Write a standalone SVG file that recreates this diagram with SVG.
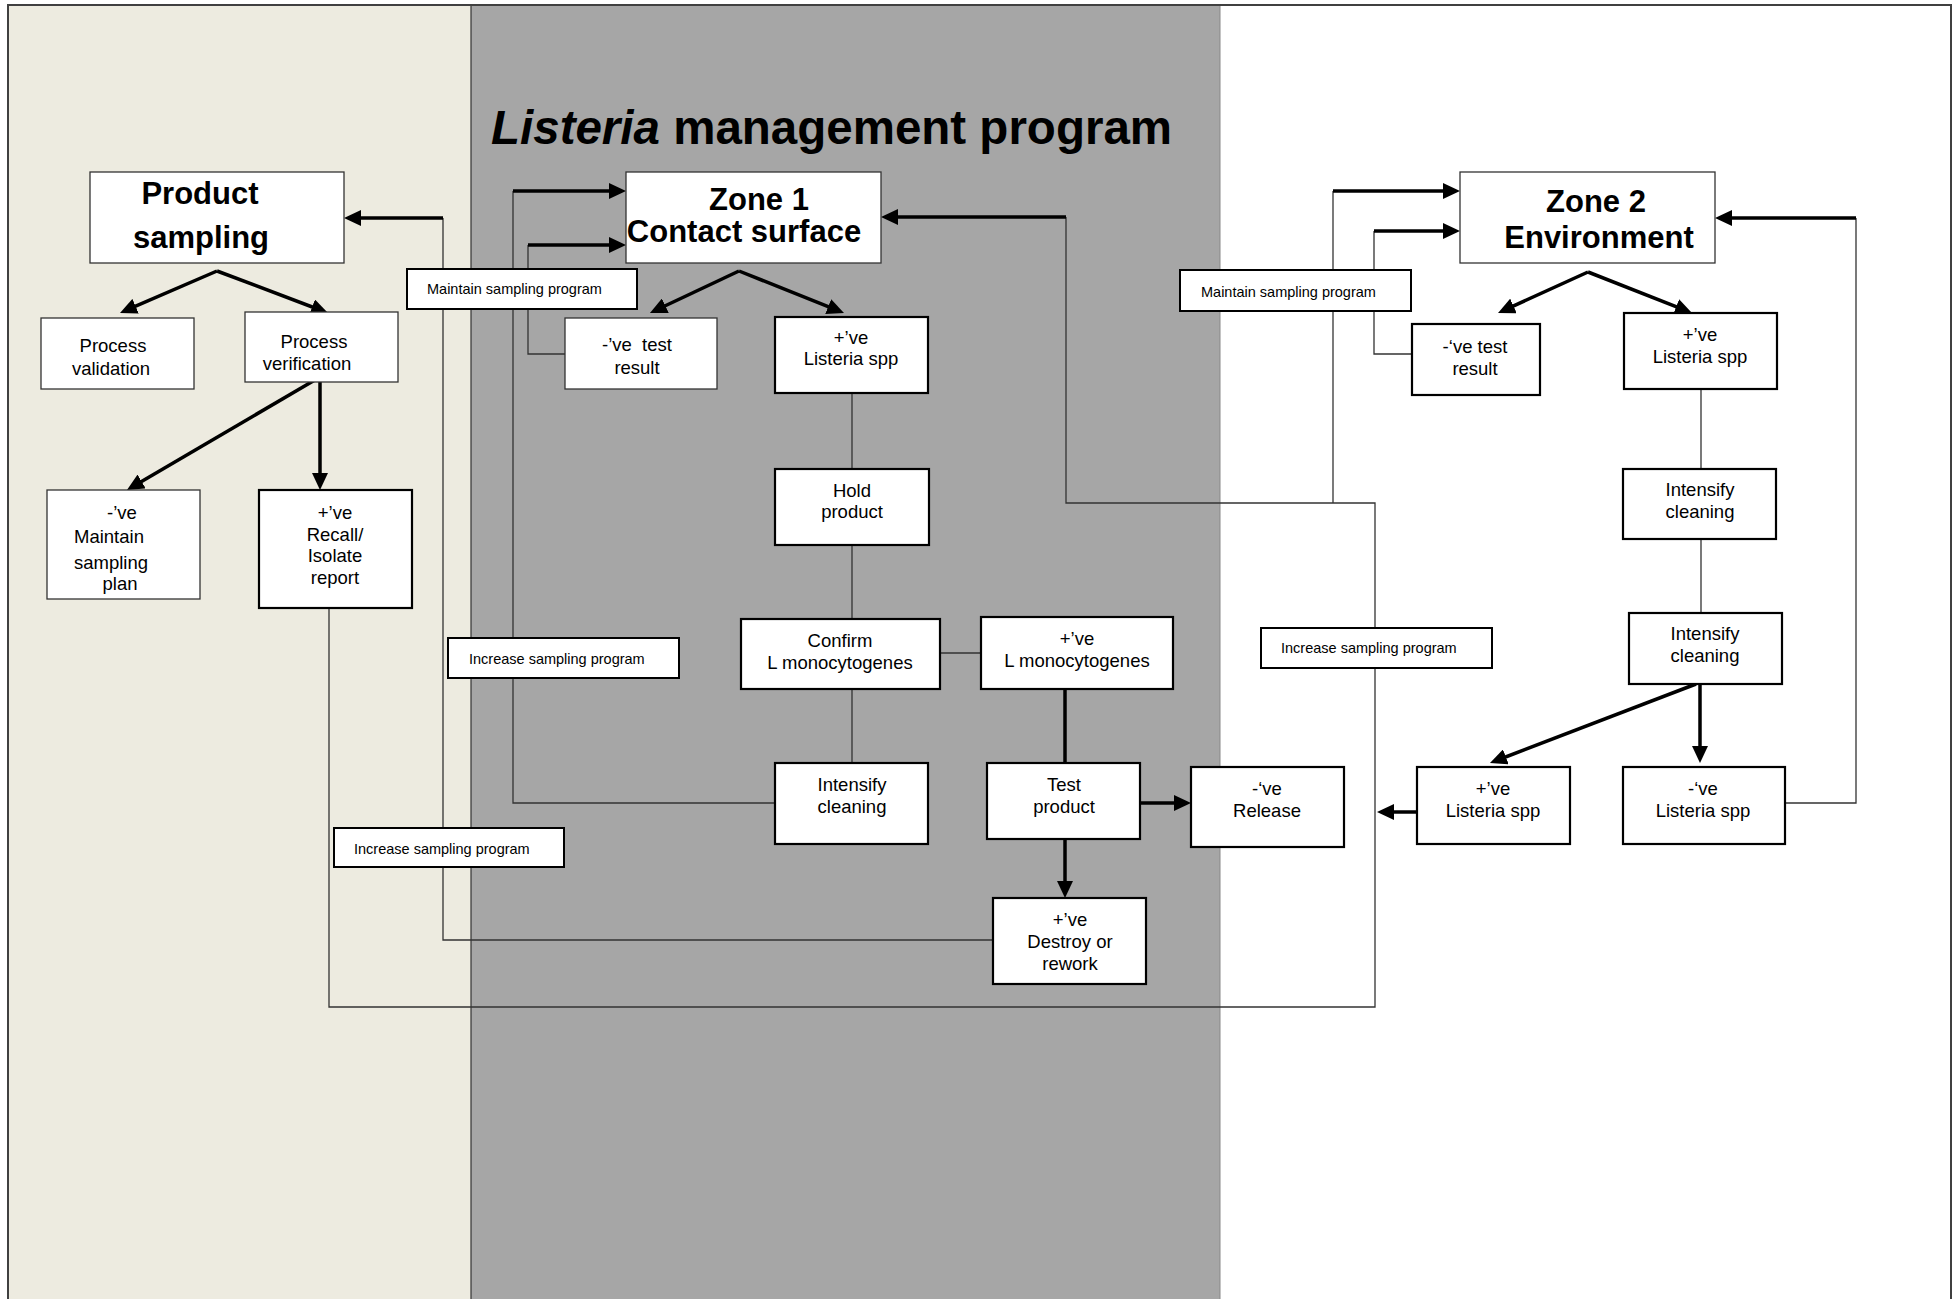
<svg xmlns="http://www.w3.org/2000/svg" width="1959" height="1299" viewBox="0 0 1959 1299">
<defs>
<marker id="ah" viewBox="0 0 17 16" markerWidth="17" markerHeight="16" refX="10" refY="8" orient="auto" markerUnits="userSpaceOnUse">
<path d="M0,0 L17,8 L0,16 z" fill="#000"/>
</marker>
<style>
.box{fill:#fff;stroke:#000;stroke-width:2.2}
.tbox{fill:#fff;stroke:#333;stroke-width:1.3}
.lbl{fill:#fff;stroke:#000;stroke-width:2}
.thin{fill:none;stroke:#333;stroke-width:1.3}
.thick{fill:none;stroke:#000;stroke-width:3.5}
.arr{fill:none;stroke:#000;stroke-width:3.5;marker-end:url(#ah)}
text{font-family:"Liberation Sans",Arial,sans-serif;fill:#000}
.t{font-size:18.5px;text-anchor:middle}
.ts{font-size:18.5px;text-anchor:start}
.s{font-size:14.5px}
.h{font-size:31px;font-weight:bold;text-anchor:middle}
</style>
</defs>
<g id="background">
<rect x="8" y="5" width="463" height="1300" fill="#EDEBE0"/>
<rect x="471" y="5" width="749" height="1300" fill="#A6A6A6"/>
<rect x="1220" y="5" width="731" height="1300" fill="#fff"/>
<line x1="471" y1="5" x2="471" y2="1299" stroke="#333" stroke-width="1.2"/>
<line x1="1220" y1="5" x2="1220" y2="1299" stroke="#888" stroke-width="1"/>
<path d="M8,1299 V5 H1951 V1299" fill="none" stroke="#404040" stroke-width="2"/>
</g>
<g id="title">
<text x="491" y="144" font-size="47.5" font-weight="bold"><tspan font-style="italic">Listeria</tspan> management program</text>
</g>
<g id="connectors">
<path class="thin" d="M993,940 H443 V218"/>
<path class="arr" d="M443,218 H351"/>
<path class="thin" d="M775,803 H513 V191"/>
<path class="arr" d="M513,191 H619"/>
<path class="thin" d="M565,354 H528 V245"/>
<path class="arr" d="M528,245 H619"/>
<path class="thin" d="M329,608 V1007 H1375 V503 H1066 V217"/>
<path class="thin" d="M1333,503 V191"/>
<path class="arr" d="M1066,217 H888"/>
<path class="arr" d="M1333,191 H1453"/>
<path class="thin" d="M1412,354 H1374 V231"/>
<path class="arr" d="M1374,231 H1453"/>
<path class="thin" d="M1785,803 H1856 V218"/>
<path class="arr" d="M1856,218 H1722"/>
<path class="arr" d="M1417,812 H1384"/>
<path class="arr" d="M217,271 L126.4,310.2"/>
<path class="arr" d="M217,271 L321.5,310.5"/>
<path class="arr" d="M739,271 L656.3,310"/>
<path class="arr" d="M739,271 L837.5,310.4"/>
<path class="arr" d="M1588,272 L1504.4,310.1"/>
<path class="arr" d="M1588,272 L1685.5,310.4"/>
<path class="arr" d="M320,377 L133,486.5"/>
<path class="arr" d="M320,377 V483"/>
<path class="arr" d="M1696,684 L1496.5,760.5"/>
<path class="arr" d="M1700,684 V756"/>
<path class="thin" d="M852,393 V469 M852,545 V619 M940,653 H981 M852,689 V763"/>
<path class="thin" d="M1701,389 V469 M1701,539 V613"/>
<path class="thick" d="M1065,689 V763"/>
<path class="arr" d="M1140,803 H1184"/>
<path class="arr" d="M1065,839 V891"/>
</g>
<g id="product-sampling"><rect class="tbox" x="90" y="172" width="254" height="91"/><text class="h" x="200" y="204">Product</text><text class="h" x="201" y="248">sampling</text></g>
<g id="zone1"><rect class="tbox" x="626" y="172" width="255" height="91"/><text class="h" x="759" y="210">Zone 1</text><text class="h" x="744" y="242">Contact surface</text></g>
<g id="zone2"><rect class="tbox" x="1460" y="172" width="255" height="91"/><text class="h" x="1596" y="212">Zone 2</text><text class="h" x="1599" y="248">Environment</text></g>
<g id="process-validation"><rect class="tbox" x="41" y="318" width="153" height="71"/><text class="t" x="113" y="352">Process</text><text class="t" x="111" y="375">validation</text></g>
<g id="process-verification"><rect class="tbox" x="245" y="312" width="153" height="70"/><text class="t" x="314" y="348">Process</text><text class="t" x="307" y="370">verification</text></g>
<g id="neg-maintain"><rect class="tbox" x="47" y="490" width="153" height="109"/><text class="t" x="122" y="519">-’ve</text><text class="ts" x="74" y="543">Maintain</text><text class="ts" x="74" y="569">sampling</text><text class="t" x="120" y="590">plan</text></g>
<g id="pos-recall"><rect class="box" x="259" y="490" width="153" height="118"/><text class="t" x="335" y="519">+’ve</text><text class="t" x="335" y="541">Recall/</text><text class="t" x="335" y="562">Isolate</text><text class="t" x="335" y="584">report</text></g>
<g id="z1-neg-test"><rect class="tbox" x="565" y="318" width="152" height="71"/><text class="t" x="637" y="351" xml:space="preserve">-’ve  test</text><text class="t" x="637" y="374">result</text></g>
<g id="z1-pos-listeria"><rect class="box" x="775" y="317" width="153" height="76"/><text class="t" x="851" y="344">+’ve</text><text class="t" x="851" y="365">Listeria spp</text></g>
<g id="hold-product"><rect class="box" x="775" y="469" width="154" height="76"/><text class="t" x="852" y="497">Hold</text><text class="t" x="852" y="518">product</text></g>
<g id="confirm"><rect class="box" x="741" y="619" width="199" height="70"/><text class="t" x="840" y="647">Confirm</text><text class="t" x="840" y="669">L monocytogenes</text></g>
<g id="pos-lmono"><rect class="box" x="981" y="617" width="192" height="72"/><text class="t" x="1077" y="645">+’ve</text><text class="t" x="1077" y="667">L monocytogenes</text></g>
<g id="z1-intensify"><rect class="box" x="775" y="763" width="153" height="81"/><text class="t" x="852" y="791">Intensify</text><text class="t" x="852" y="813">cleaning</text></g>
<g id="test-product"><rect class="box" x="987" y="763" width="153" height="76"/><text class="t" x="1064" y="791">Test</text><text class="t" x="1064" y="813">product</text></g>
<g id="release"><rect class="box" x="1191" y="767" width="153" height="80"/><text class="t" x="1267" y="795">-‘ve</text><text class="t" x="1267" y="817">Release</text></g>
<g id="destroy"><rect class="box" x="993" y="898" width="153" height="86"/><text class="t" x="1070" y="926">+’ve</text><text class="t" x="1070" y="948">Destroy or</text><text class="t" x="1070" y="970">rework</text></g>
<g id="z2-neg-test"><rect class="box" x="1412" y="324" width="128" height="71"/><text class="t" x="1475" y="353">-‘ve test</text><text class="t" x="1475" y="375">result</text></g>
<g id="z2-pos-listeria"><rect class="box" x="1624" y="313" width="153" height="76"/><text class="t" x="1700" y="341">+’ve</text><text class="t" x="1700" y="363">Listeria spp</text></g>
<g id="z2-intensify1"><rect class="box" x="1623" y="469" width="153" height="70"/><text class="t" x="1700" y="496">Intensify</text><text class="t" x="1700" y="518">cleaning</text></g>
<g id="z2-intensify2"><rect class="box" x="1629" y="613" width="153" height="71"/><text class="t" x="1705" y="640">Intensify</text><text class="t" x="1705" y="662">cleaning</text></g>
<g id="z2-pos-listeria2"><rect class="box" x="1417" y="767" width="153" height="77"/><text class="t" x="1493" y="795">+’ve</text><text class="t" x="1493" y="817">Listeria spp</text></g>
<g id="z2-neg-listeria"><rect class="box" x="1623" y="767" width="162" height="77"/><text class="t" x="1703" y="795">-‘ve</text><text class="t" x="1703" y="817">Listeria spp</text></g>
<g id="lbl-maintain1"><rect class="lbl" x="407" y="269" width="230" height="40"/><text class="s" x="427" y="294">Maintain sampling program</text></g>
<g id="lbl-maintain2"><rect class="lbl" x="1180" y="270" width="231" height="41"/><text class="s" x="1201" y="297">Maintain sampling program</text></g>
<g id="lbl-increase1"><rect class="lbl" x="448" y="638" width="231" height="40"/><text class="s" x="469" y="664">Increase sampling program</text></g>
<g id="lbl-increase2"><rect class="lbl" x="334" y="828" width="230" height="39"/><text class="s" x="354" y="854">Increase sampling program</text></g>
<g id="lbl-increase3"><rect class="lbl" x="1261" y="628" width="231" height="40"/><text class="s" x="1281" y="653">Increase sampling program</text></g>
</svg>
